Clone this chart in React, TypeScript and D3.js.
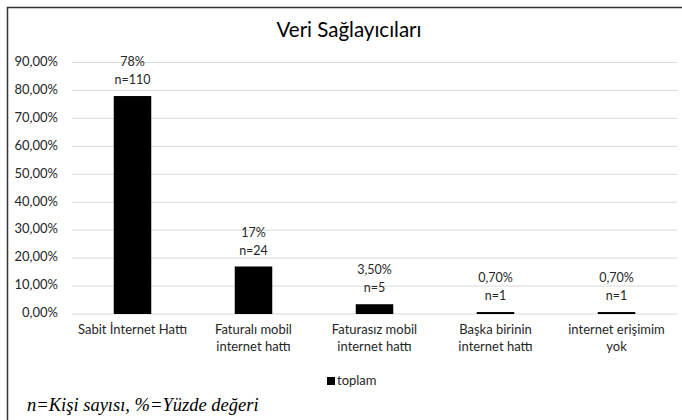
import React from 'react'
import * as d3 from 'd3'

// chart data
const categories = [
  ['Sabit İnternet Hattı'],
  ['Faturalı mobil', 'internet hattı'],
  ['Faturasız mobil', 'internet hattı'],
  ['Başka birinin', 'internet hattı'],
  ['internet erişimim', 'yok'],
]
const percents = [78, 17, 3.5, 0.7, 0.7]
const percentLabels = ['78%', '17%', '3,50%', '0,70%', '0,70%']
const counts = [110, 24, 5, 1, 1]
const yTicks = [0, 10, 20, 30, 40, 50, 60, 70, 80, 90]

const width = 682
const height = 420
const font = 'Lato, "Open Sans", sans-serif'
const textColor = '#262626'

const App = () => {
  const x = d3.scaleBand<number>()
    .domain(d3.range(categories.length))
    .range([72, 677])
    .paddingInner(0.69)
    .paddingOuter(0.345)

  const y = d3.scaleLinear().domain([0, 90]).range([314, 62.5])

  return (
    <svg width={width} height={height} style={{ position: 'absolute', left: 0, top: 0 }}>
      <rect x={0} y={0} width={width} height={height} fill="#fff" />
      {/* outer frame, only left and top edges visible */}
      <path d={`M7.5,${height} V7.5 H${width}`} fill="none" stroke="#333" strokeWidth={1.5} />

      <text x={349} y={32} textAnchor="middle" dominantBaseline="middle"
        fontFamily={font} fontSize={20.5} fill="#000">Veri Sağlayıcıları</text>

      {/* grid + y axis */}
      {yTicks.map((t) => (
        <g key={t}>
          <line x1={72} x2={677} y1={y(t)} y2={y(t)} stroke="#d9d9d9" strokeWidth={1} />
          <text x={58} y={y(t)} textAnchor="end" dominantBaseline="middle"
            fontFamily={font} fontSize={13} fill={textColor}>
            {d3.format('.2f')(t).replace('.', ',') + '%'}
          </text>
        </g>
      ))}

      {/* bars */}
      {percents.map((p, i) => (
        <g key={i}>
          <rect x={x(i)} y={y(p)} width={x.bandwidth()} height={y(0) - y(p)} fill="#000" />
          <text x={(x(i) ?? 0) + x.bandwidth() / 2} y={y(p) - 33} textAnchor="middle"
            dominantBaseline="middle" fontFamily={font} fontSize={12.5} fill={textColor}>
            {percentLabels[i]}
          </text>
          <text x={(x(i) ?? 0) + x.bandwidth() / 2} y={y(p) - 15} textAnchor="middle"
            dominantBaseline="middle" fontFamily={font} fontSize={12.5} fill={textColor}>
            {'n=' + counts[i]}
          </text>
          {categories[i].map((line, j) => (
            <text key={j} x={(x(i) ?? 0) + x.bandwidth() / 2} y={331 + j * 17}
              textAnchor="middle" dominantBaseline="middle" fontFamily={font}
              fontSize={13} fill={textColor}>{line}</text>
          ))}
        </g>
      ))}

      {/* legend */}
      <rect x={327} y={377} width={8} height={8} fill="#000" />
      <text x={337} y={381.5} dominantBaseline="middle" fontFamily={font} fontSize={13}
        fill={textColor}>toplam</text>

      {/* footnote */}
      <text x={27} y={407} dominantBaseline="middle" fontFamily='"Liberation Serif", "Times New Roman", serif'
        fontStyle="italic" fontSize={18.5} fill="#000">n=Kişi sayısı, %=Yüzde değeri</text>
    </svg>
  )
}

export default App
